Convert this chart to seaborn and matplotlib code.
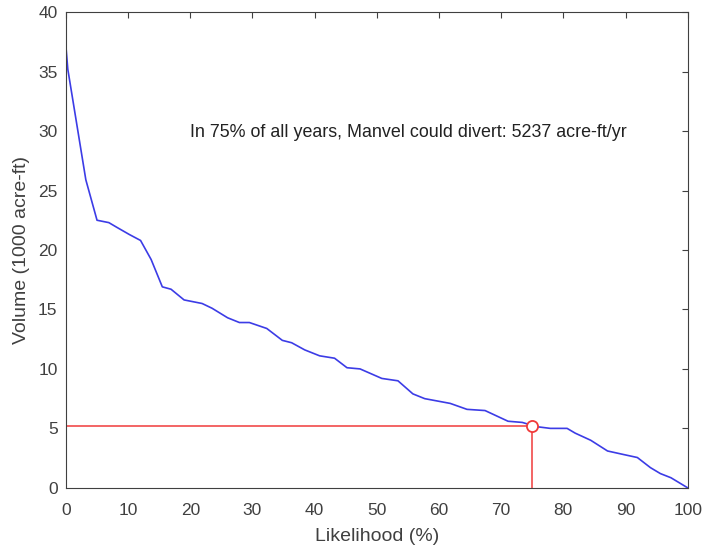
import numpy as np
import pandas as pd
import seaborn as sns
import matplotlib
matplotlib.use("Agg")
from matplotlib import pyplot as plt

# exceedance curve
likelihood = [0, 0.3, 3.2, 5, 6.9, 8.2, 10.2, 12, 13.7, 15.5, 16.9, 19, 21.9,
              23.5, 26, 27.9, 29.5, 32.3, 34.8, 36.3, 38.4, 40.8, 43.2, 45.2,
              47.3, 50.8, 53.4, 55.8, 57.7, 61.8, 64.5, 67.4, 71.1, 73.4, 75.6,
              77.9, 80.6, 81.9, 84.4, 87.1, 89.7, 91.9, 94, 95.6, 97.3, 100]
volume = [37.1, 35.2, 25.9, 22.5, 22.3, 21.9, 21.3, 20.8, 19.2, 16.9, 16.7,
          15.8, 15.5, 15.1, 14.3, 13.9, 13.9, 13.4, 12.4, 12.2, 11.6, 11.1,
          10.9, 10.1, 10.0, 9.2, 9.0, 7.9, 7.5, 7.1, 6.6, 6.5, 5.6, 5.5, 5.15,
          5.0, 5.0, 4.6, 4.0, 3.1, 2.8, 2.55, 1.7, 1.2, 0.85, 0.0]

pick_pct = 75
pick_vol = 5.237  # 1000 acre-ft

df = pd.DataFrame({"likelihood": likelihood, "volume": volume})

sns.set_style("white")
plt.rcParams["font.family"] = ["Liberation Sans", "DejaVu Sans"]

fig = plt.figure(figsize=(7.09, 5.5), dpi=100)
ax = fig.add_axes([0.093, 0.113, 0.877, 0.865])

sns.lineplot(data=df, x="likelihood", y="volume", ax=ax, color="#3c3ce6",
             linewidth=1.2, estimator=None, sort=False)

ax.plot([0, pick_pct], [pick_vol, pick_vol], color="#f03a3a", linewidth=1.1)
ax.plot([pick_pct, pick_pct], [0, pick_vol], color="#f03a3a", linewidth=1.1)
ax.plot([pick_pct], [pick_vol], marker="o", markersize=8, markerfacecolor="white",
        markeredgecolor="#f03a3a", markeredgewidth=1.3, linestyle="none")

ax.text(20, 29.9, "In %d%% of all years, Manvel could divert: %d acre-ft/yr"
        % (pick_pct, round(pick_vol * 1000)), fontsize=12.9, color="#222222",
        va="center", ha="left")

ax.set_xlim(0, 100)
ax.set_ylim(0, 40)
ax.set_xticks(np.arange(0, 101, 10))
ax.set_yticks(np.arange(0, 41, 5))
ax.tick_params(direction="in", length=4, width=0.8, colors="#404040",
               labelcolor="#404040", labelsize=12.5, top=True, right=True)
ax.tick_params(axis="x", pad=11)
ax.tick_params(axis="y", pad=6)
for s in ax.spines.values():
    s.set_visible(True)
    s.set_color("#404040")
    s.set_linewidth(0.8)

ax.set_xlabel("Likelihood (%)", fontsize=14, color="#404040", labelpad=7)
ax.set_ylabel("Volume (1000 acre-ft)", fontsize=14, color="#404040", labelpad=6)

plt.savefig("out.png", dpi=100)
